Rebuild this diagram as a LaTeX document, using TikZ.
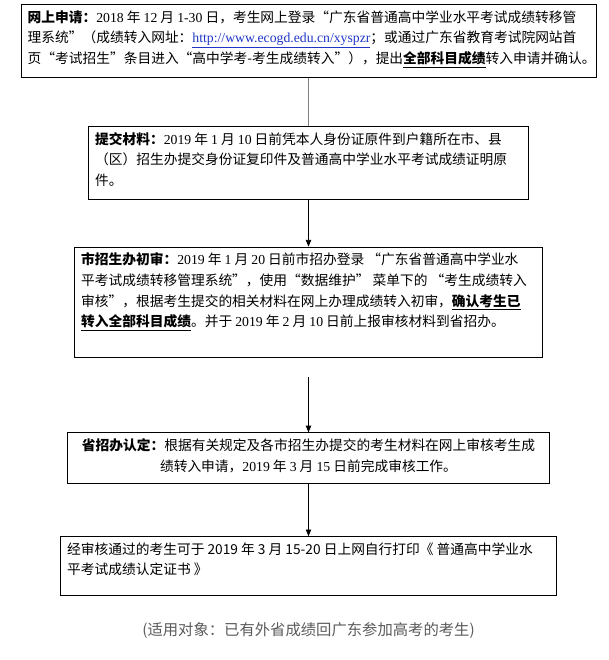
\documentclass[tikz,border=0pt]{standalone}
\usepackage{fontspec}
\setmainfont{Noto Sans CJK SC}
\newfontfamily\latinfont{Liberation Serif}
\usepackage{tikz}
\usetikzlibrary{arrows.meta, positioning}
\definecolor{linkblue}{HTML}{1F35C8}
\definecolor{notegray}{HTML}{5A5A5A}
\newcommand{\nm}[1]{{\latinfont #1}}
\newcommand{\keyul}[1]{\underline{\textbf{#1}}}
\newcommand{\steptext}[4][\raggedright]{\parbox[t][#3][t]{#2}{\exhyphenpenalty=10000 \hyphenpenalty=10000 #1#4}}

\begin{document}
\begin{tikzpicture}[x=0.75pt, y=0.75pt, >={Triangle[length=5pt, width=4pt]},
    stepbox/.style={draw, line width=0.6pt, inner xsep=5pt, inner ysep=4.5pt,
      font=\fontsize{10.3pt}{15.5pt}\selectfont}]
  \useasboundingbox (0,0) rectangle (609,-660);
  % steps of the transfer
  \node[stepbox, anchor=north] (apply) at (308.5,-4)
    {\steptext{421.25pt}{45.75pt}{\textbf{网上申请：}\nm{2018} 年 \nm{12} 月 \nm{1-30} 日，考生网上登录“广东省普通高中学业水平考试成绩转移管\\
    理系统”（成绩转入网址：\textcolor{linkblue}{\underline{\nm{http://www.ecogd.edu.cn/xyspzr}}}；或通过广东省教育考试院网站首\\
    \mbox{页“考试招生”条目进入“高中学考-考生成绩转入”），提出\keyul{全部科目成绩}转入申请并确认。}}};
  \node[stepbox, below=36pt of apply] (submit)
    {\steptext{320pt}{45.75pt}{\textbf{提交材料：}\nm{2019} 年 \nm{1} 月 \nm{10} 日前凭本人身份证原件到户籍所在市、县\\
    （区）招生办提交身份证复印件及普通高中学业水平考试成绩证明原\\
    件。}};
  \node[stepbox, below=35.25pt of submit] (cityreview)
    {\steptext{341pt}{73.5pt}{\textbf{市招生办初审：}\nm{2019} 年 \nm{1} 月 \nm{20} 日前市招办登录 “广东省普通高中学业水\\
    平考试成绩转移管理系统”，使用“数据维护” 菜单下的 “考生成绩转入\\
    审核”，根据考生提交的相关材料在网上办理成绩转入初审，\keyul{确认考生已}\\
    \keyul{转入全部科目成绩}。并于 \nm{2019} 年 \nm{2} 月 \nm{10} 日前上报审核材料到省招办。}};
  \coordinate[below=15pt of cityreview] (resume);
  \node[stepbox, below=56.25pt of cityreview] (provconfirm)
    {\steptext[\centering]{351.5pt}{29.25pt}{\textbf{省招办认定：}根据有关规定及各市招生办提交的考生材料在网上审核考生成\\
    绩转入申请，\nm{2019} 年 \nm{3} 月 \nm{15} 日前完成审核工作。}};
  \node[stepbox, below=39pt of provconfirm] (print)
    {\steptext{362pt}{35.25pt}{经审核通过的考生可于 2019 年 3 月 15-20 日上网自行打印《 普通高中学业水\\
    平考试成绩认定证书 》}};
  \node[below=20pt of print, inner sep=0pt, text=notegray,
    font=\fontsize{11.5pt}{14pt}\selectfont] (note)
    {(适用对象：已有外省成绩回广东参加高考的考生)};
  % connectors
  \draw[gray, line width=0.6pt] (apply) -- (submit);
  \draw[->, line width=0.6pt] (submit) -- (cityreview);
  \draw[->, line width=0.6pt] (resume) -- (provconfirm);
  \draw[->, line width=0.6pt] (provconfirm) -- (print);
\end{tikzpicture}
\end{document}
